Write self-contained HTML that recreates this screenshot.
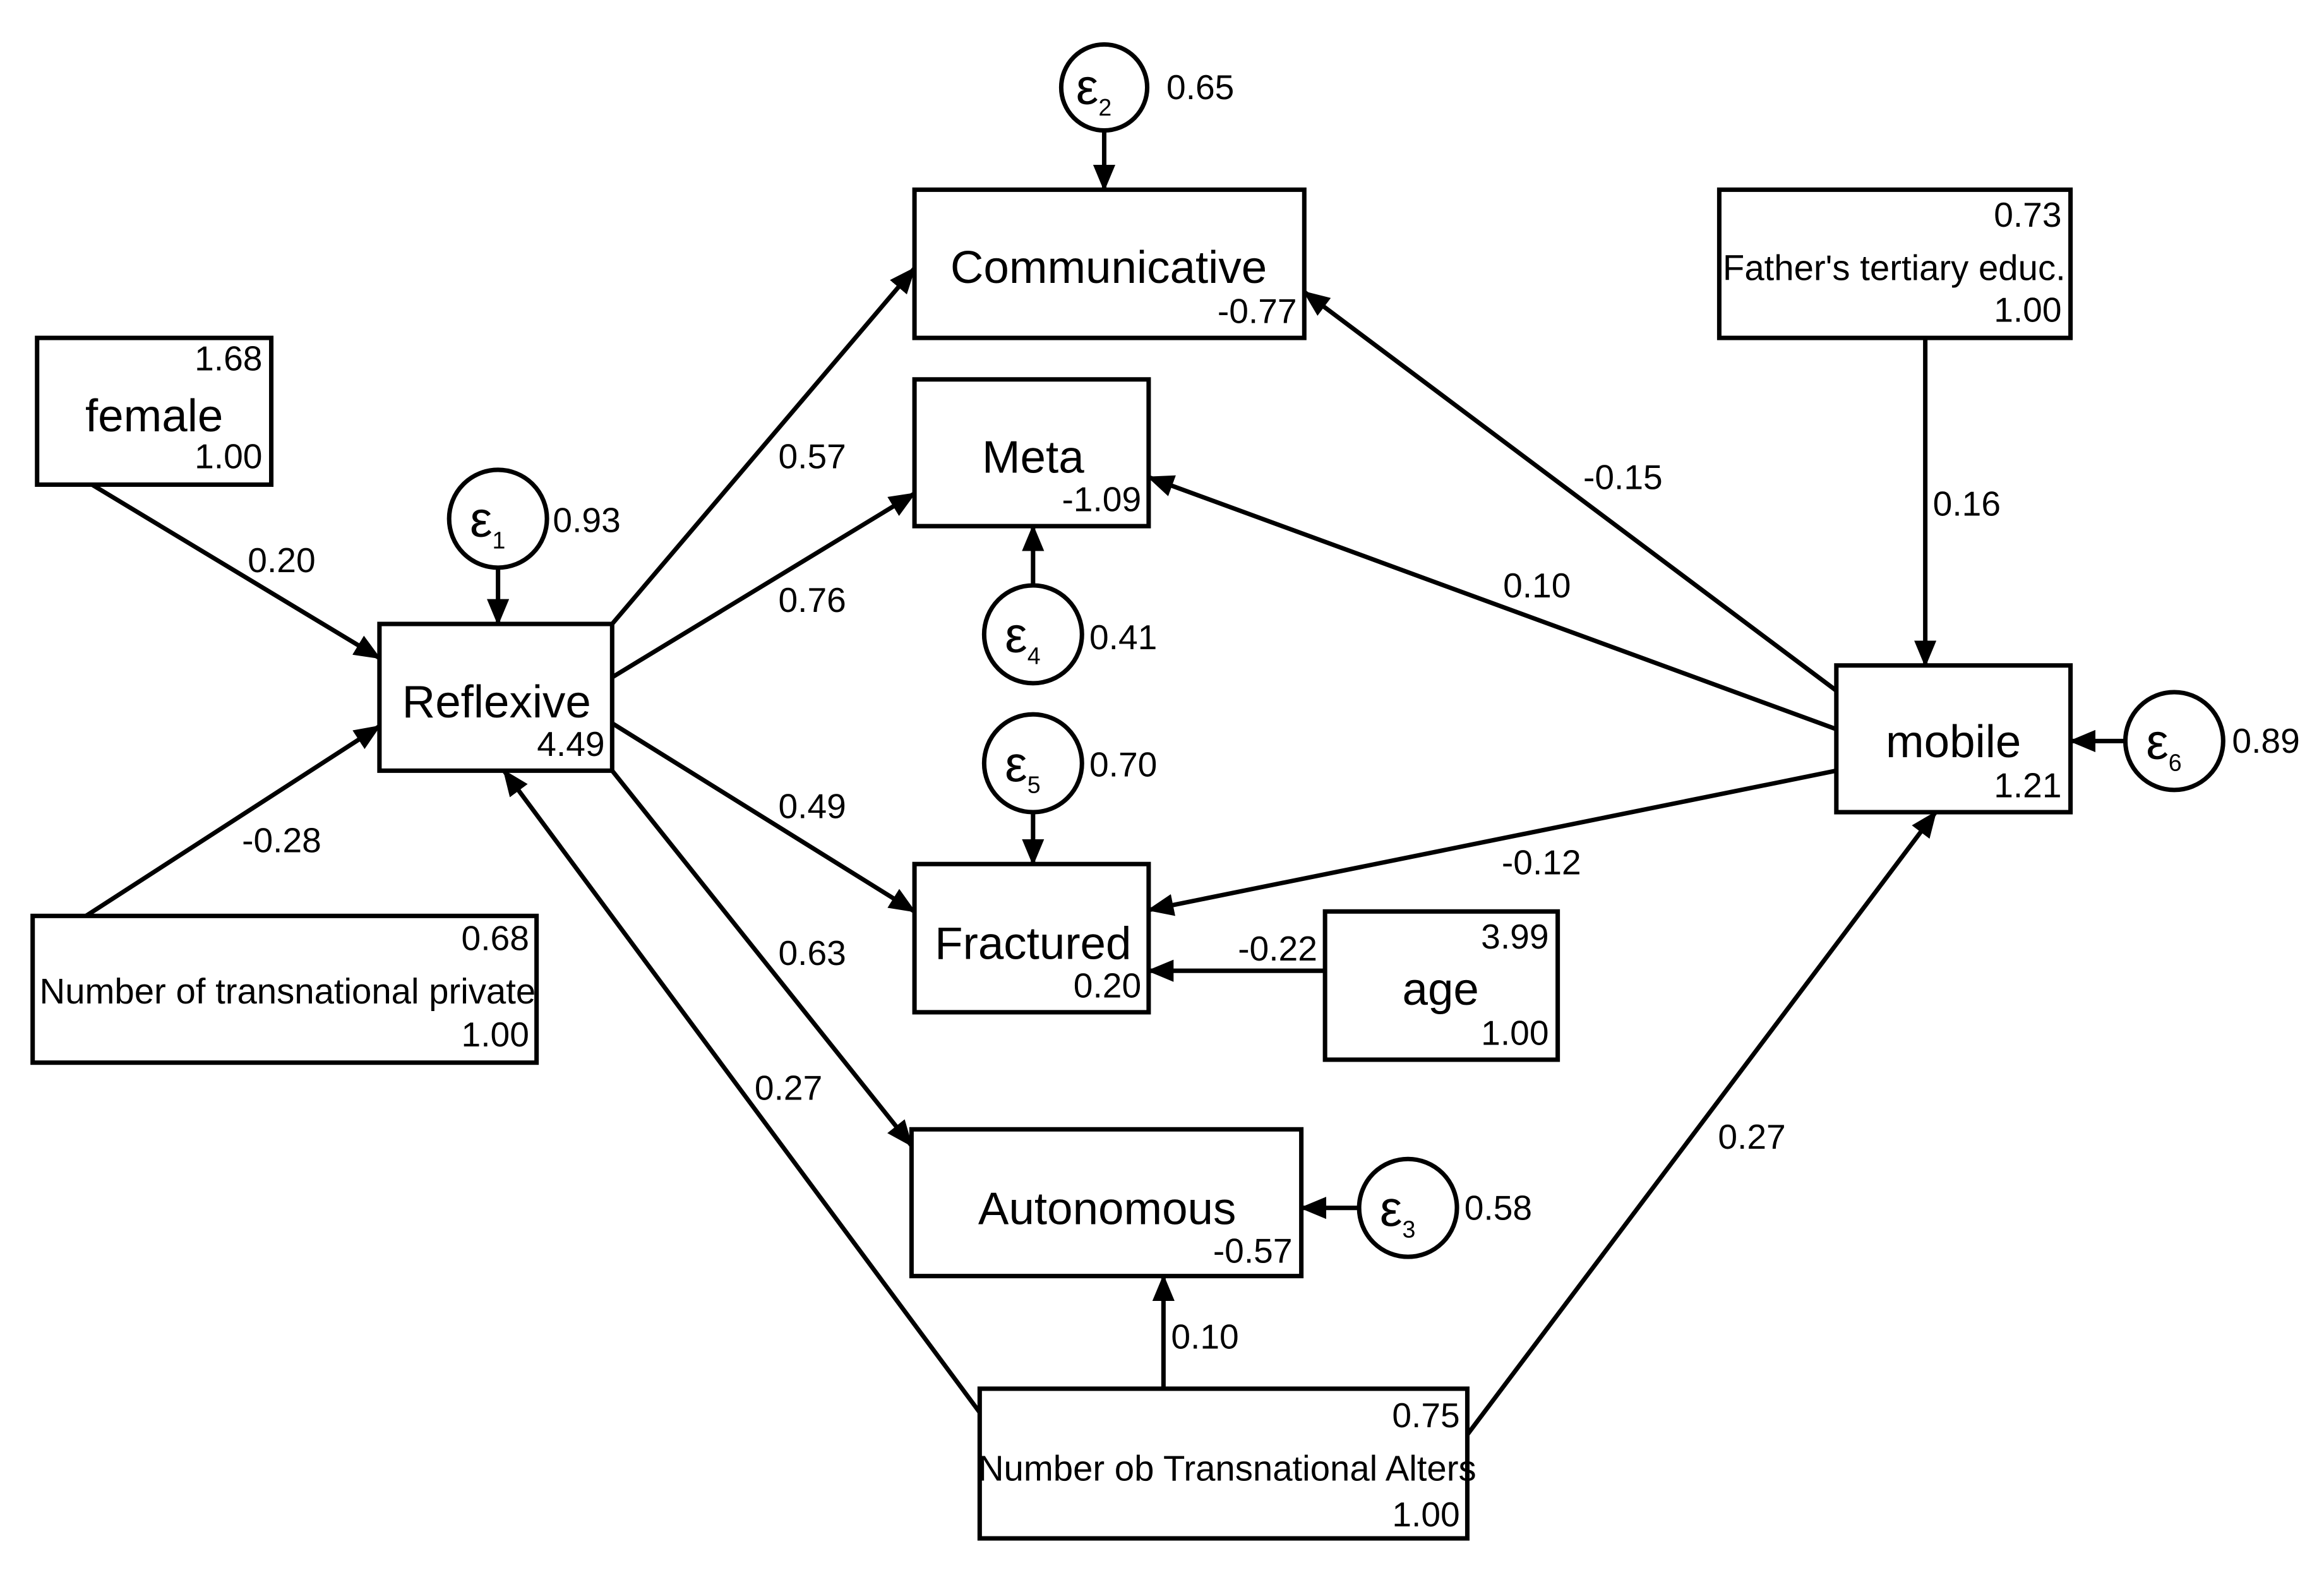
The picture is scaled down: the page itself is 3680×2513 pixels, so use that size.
<!DOCTYPE html>
<html><head><meta charset="utf-8"><style>
html,body{margin:0;padding:0;background:#fff;}
svg{display:block;}
text{font-family:"Liberation Sans",sans-serif;fill:#000;}
.big{font-size:31px;}
.num{font-size:23.5px;}
.sm{font-size:24px;}
.eps{font-size:34px;}
</style></head><body>
<svg width="3680" height="2513" viewBox="0 0 1568 1070.8" xmlns="http://www.w3.org/2000/svg">
<defs>
<marker id="a" markerWidth="6" markerHeight="5" refX="5.6" refY="2.5" orient="auto" markerUnits="strokeWidth">
<path d="M0,0 L6,2.5 L0,5 z" fill="#000"/>
</marker>
</defs>
<rect width="1568" height="1071" fill="#fff"/>
<g fill="none" stroke="#000" stroke-width="3">
<rect x="617" y="128" width="263" height="100"/>
<rect x="617" y="256" width="158" height="99"/>
<rect x="617" y="583" width="158" height="100"/>
<rect x="894" y="615" width="157" height="100"/>
<rect x="615" y="762" width="263" height="99"/>
<rect x="661" y="937" width="329" height="101"/>
<rect x="256" y="421" width="157" height="99"/>
<rect x="25" y="228" width="158" height="99"/>
<rect x="22" y="618" width="340" height="99"/>
<rect x="1239" y="449" width="158" height="99"/>
<rect x="1160" y="128" width="237" height="100"/>
<circle cx="745" cy="59" r="29"/>
<circle cx="697" cy="428" r="33"/>
<circle cx="697" cy="515" r="33"/>
<circle cx="950" cy="815" r="33"/>
<circle cx="336" cy="350" r="33"/>
<circle cx="1467" cy="500" r="33"/>
</g>
<g fill="none" stroke="#000" stroke-width="3" marker-end="url(#a)">
<line x1="745" y1="88" x2="745" y2="128"/>
<line x1="697" y1="395" x2="697" y2="355"/>
<line x1="697" y1="548" x2="697" y2="583"/>
<line x1="894" y1="655" x2="775" y2="655"/>
<line x1="917" y1="815" x2="878" y2="815"/>
<line x1="785" y1="937" x2="785" y2="861"/>
<line x1="336" y1="383" x2="336" y2="421"/>
<line x1="62" y1="327" x2="256" y2="444"/>
<line x1="58" y1="618" x2="256" y2="490"/>
<line x1="413" y1="421" x2="617" y2="181"/>
<line x1="413" y1="457" x2="617" y2="333"/>
<line x1="413" y1="488" x2="617" y2="615"/>
<line x1="413" y1="520" x2="615" y2="773"/>
<line x1="661" y1="953" x2="340" y2="520"/>
<line x1="1434" y1="500" x2="1397" y2="500"/>
<line x1="1299" y1="228" x2="1299" y2="449"/>
<line x1="1239" y1="466" x2="880" y2="197"/>
<line x1="1239" y1="492" x2="775" y2="322"/>
<line x1="1239" y1="520" x2="775" y2="614"/>
<line x1="990" y1="968" x2="1306" y2="548"/>
</g>
<text class="big" x="748" y="191" text-anchor="middle">Communicative</text>
<text class="num" x="875" y="218" text-anchor="end">-0.77</text>
<text class="big" x="697" y="319" text-anchor="middle">Meta</text>
<text class="num" x="770" y="345" text-anchor="end">-1.09</text>
<text class="big" x="697" y="647" text-anchor="middle">Fractured</text>
<text class="num" x="770" y="673" text-anchor="end">0.20</text>
<text class="num" x="1045" y="640" text-anchor="end">3.99</text>
<text class="big" x="972" y="678" text-anchor="middle">age</text>
<text class="num" x="1045" y="705" text-anchor="end">1.00</text>
<text class="big" x="747" y="826" text-anchor="middle">Autonomous</text>
<text class="num" x="872" y="852" text-anchor="end">-0.57</text>
<text class="num" x="985" y="963" text-anchor="end">0.75</text>
<text class="sm" x="828" y="999" text-anchor="middle">Number ob Transnational Alters</text>
<text class="num" x="985" y="1030" text-anchor="end">1.00</text>
<text class="big" x="335" y="484" text-anchor="middle">Reflexive</text>
<text class="num" x="408" y="510" text-anchor="end">4.49</text>
<text class="num" x="177" y="250" text-anchor="end">1.68</text>
<text class="big" x="104" y="291" text-anchor="middle">female</text>
<text class="num" x="177" y="316" text-anchor="end">1.00</text>
<text class="num" x="357" y="641" text-anchor="end">0.68</text>
<text class="sm" x="194" y="677" text-anchor="middle">Number of transnational private</text>
<text class="num" x="357" y="706" text-anchor="end">1.00</text>
<text class="big" x="1318" y="511" text-anchor="middle">mobile</text>
<text class="num" x="1391" y="538" text-anchor="end">1.21</text>
<text class="num" x="1391" y="153" text-anchor="end">0.73</text>
<text class="sm" x="1278" y="189" text-anchor="middle">Father's tertiary educ.</text>
<text class="num" x="1391" y="217" text-anchor="end">1.00</text>
<text class="eps" x="738" y="70" text-anchor="middle">ε<tspan font-size="16" dy="8">2</tspan></text>
<text class="eps" x="690" y="440" text-anchor="middle">ε<tspan font-size="16" dy="8">4</tspan></text>
<text class="eps" x="690" y="527" text-anchor="middle">ε<tspan font-size="16" dy="8">5</tspan></text>
<text class="eps" x="943" y="827" text-anchor="middle">ε<tspan font-size="16" dy="8">3</tspan></text>
<text class="eps" x="329" y="362" text-anchor="middle">ε<tspan font-size="16" dy="8">1</tspan></text>
<text class="eps" x="1460" y="512" text-anchor="middle">ε<tspan font-size="16" dy="8">6</tspan></text>
<text class="num" x="787" y="67">0.65</text>
<text class="num" x="735" y="438">0.41</text>
<text class="num" x="735" y="524">0.70</text>
<text class="num" x="988" y="823">0.58</text>
<text class="num" x="373" y="359">0.93</text>
<text class="num" x="1506" y="508">0.89</text>
<text class="num" x="548" y="316" text-anchor="middle">0.57</text>
<text class="num" x="548" y="413" text-anchor="middle">0.76</text>
<text class="num" x="548" y="552" text-anchor="middle">0.49</text>
<text class="num" x="548" y="651" text-anchor="middle">0.63</text>
<text class="num" x="532" y="742" text-anchor="middle">0.27</text>
<text class="num" x="190" y="386" text-anchor="middle">0.20</text>
<text class="num" x="190" y="575" text-anchor="middle">-0.28</text>
<text class="num" x="862" y="648" text-anchor="middle">-0.22</text>
<text class="num" x="813" y="910" text-anchor="middle">0.10</text>
<text class="num" x="1095" y="330" text-anchor="middle">-0.15</text>
<text class="num" x="1037" y="403" text-anchor="middle">0.10</text>
<text class="num" x="1040" y="590" text-anchor="middle">-0.12</text>
<text class="num" x="1327" y="348" text-anchor="middle">0.16</text>
<text class="num" x="1182" y="775" text-anchor="middle">0.27</text>
</svg>
</body></html>
